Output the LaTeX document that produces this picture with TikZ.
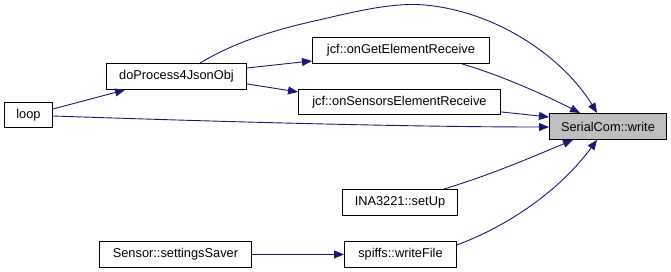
\documentclass[tikz,border=0pt]{standalone}
\usepackage{fontspec}
\setmainfont{Liberation Sans}
\usetikzlibrary{arrows.meta,calc}
\definecolor{edgeblue}{HTML}{191970}
\definecolor{hlgray}{HTML}{BFBFBF}
\begin{document}
\begin{tikzpicture}[x=1pt,y=-1pt,
  fn/.style={draw=black,line width=0.9pt,fill=white,inner sep=0pt,
    minimum height=26pt,font=\fontsize{12.8}{14}\selectfont,anchor=north west},
  hl/.style={fn,fill=hlgray},
  call/.style={draw=edgeblue,line width=0.9pt,
    -{Triangle[length=10pt,width=8pt]},fill=none}]
\useasboundingbox (0,0) rectangle (671,272);

% function boxes
\node[fn,minimum width=48pt,minimum height=25pt] (loop) at (4,102) {loop};
\node[fn,minimum width=140pt] (proc) at (106,63) {doProcess4JsonObj};
\node[fn,minimum width=177pt] (get) at (312,37) {jcf::onGetElementReceive};
\node[fn,minimum width=202pt,minimum height=25pt] (sens) at (298,89) {jcf::onSensorsElementReceive};
\node[hl,minimum width=117pt] (write) at (549,113) {SerialCom::write};
\node[fn,minimum width=115pt] (ina) at (342,189) {INA3221::setUp};
\node[fn,minimum width=152pt] (saver) at (99,241) {Sensor::settingsSaver};
\node[fn,minimum width=112pt] (wfile) at (344,241) {spiffs::writeFile};

% call edges
\draw[call] ($(loop.north east)+(0,7)$) -- ($(proc.south west)+(19,0)$);
\draw[call] ($(loop.north east)+(0,14)$)
  .. controls (200,121) and (400,127) .. ($(write.north west)+(0,14)$);
\draw[call] ($(proc.north east)+(0,5)$) -- ($(get.south west)+(0,-3)$);
\draw[call] ($(proc.south east)+(0,-6)$) -- ($(sens.north west)+(0,3)$);
\draw[call] ($(proc.north west)+(94,0)$)
  .. controls (235,42) and (275,30) .. (310,22)
  .. controls (350,13) and (390,2) .. (425,5)
  .. controls (500,12) and (565,60) .. ($(write.north west)+(48,0)$);
\draw[call] ($(get.south west)+(150,0)$)
  .. controls (500,75) and (545,95) .. ($(write.north west)+(31,0)$);
\draw[call] ($(sens.south east)+(0,-3)$) -- ($(write.north west)+(0,4)$);
\draw[call] ($(ina.north west)+(102,0)$)
  .. controls (490,175) and (530,158) .. ($(write.south west)+(24,0)$);
\draw[call] ($(wfile.north east)+(0,4)$)
  .. controls (510,225) and (560,190) .. ($(write.south west)+(48,0)$);
\draw[call] (saver.east) -- (wfile.west);
\end{tikzpicture}
\end{document}
